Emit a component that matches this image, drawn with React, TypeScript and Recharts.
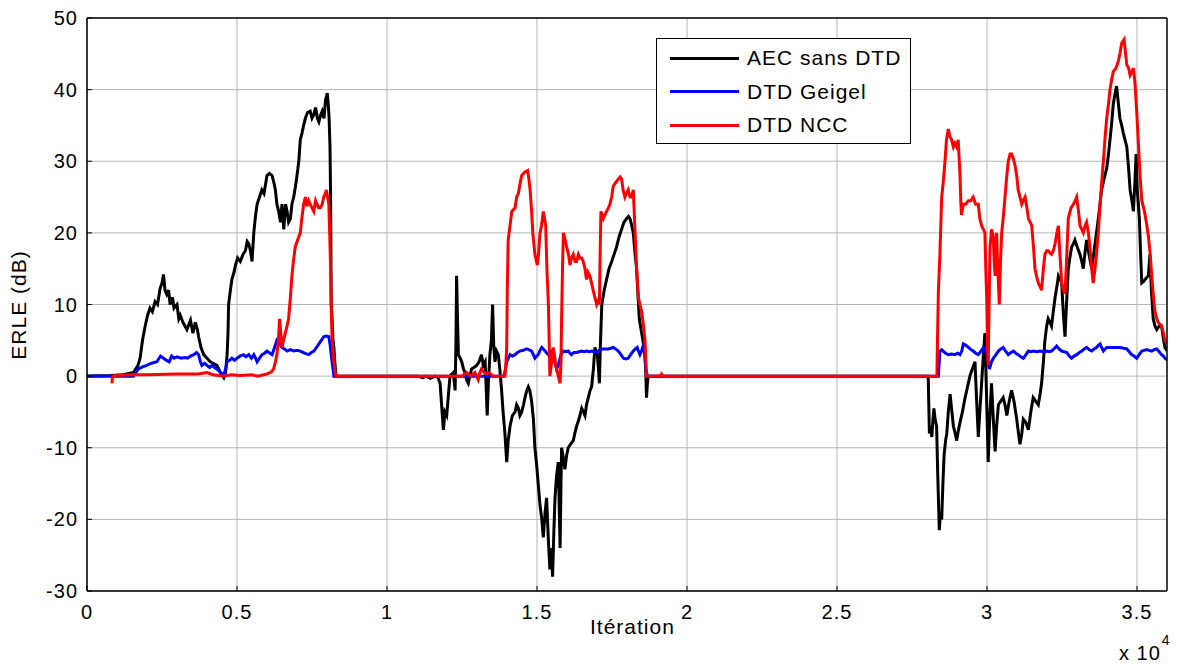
import { LineChart, Line, XAxis, YAxis, CartesianGrid } from 'recharts';

// Courbes ERLE (dB) en fonction de l'itération : [itération, valeur]
const aecSansDtd: [number, number][] = [
  [0, 0], [800, 0.1], [1200, 0.2], [1550, 0.5], [1700, 1.5], [1770, 2.5], [1850, 5], [1940, 7], [2020, 8.5],
  [2100, 9.5], [2180, 9], [2270, 10.4], [2350, 10], [2440, 12.3], [2500, 13], [2550, 14.2], [2600, 12],
  [2660, 11.4], [2720, 12], [2770, 10], [2850, 11], [2900, 9.5], [3000, 10], [3060, 8], [3110, 8.5],
  [3200, 7.5], [3330, 6.5], [3450, 7.8], [3530, 6], [3610, 7.5], [3680, 6.5], [3720, 5.5], [3800, 4],
  [3890, 3], [4000, 2.5], [4110, 2], [4200, 1.8], [4330, 1.5], [4450, 0.5], [4560, -0.2], [4620, 0.5],
  [4670, 3], [4700, 6], [4720, 10], [4780, 12], [4830, 13.5], [4900, 14.5], [4950, 15.5], [5020, 16.5],
  [5110, 16], [5200, 17], [5280, 17.5], [5340, 18.8], [5390, 18.5], [5450, 17.5], [5500, 16], [5530, 18],
  [5560, 20], [5620, 22.5], [5670, 24], [5750, 25], [5830, 26], [5900, 25.5], [6000, 28], [6080, 28.3],
  [6170, 28], [6230, 27], [6280, 26], [6330, 24], [6390, 23], [6450, 21.5], [6500, 24], [6560, 20.5],
  [6620, 24], [6670, 23], [6720, 21.5], [6780, 22], [6830, 24], [6890, 25], [6950, 26.5], [7000, 28],
  [7060, 30], [7110, 33], [7170, 34], [7220, 35], [7280, 36], [7350, 36.8], [7440, 37], [7500, 36],
  [7560, 36.5], [7620, 37.5], [7680, 36], [7730, 35.5], [7790, 36.5], [7840, 37], [7900, 36], [7950, 38.5],
  [8010, 39.5], [8040, 38], [8070, 36], [8100, 32], [8120, 25], [8140, 10], [8170, 8], [8200, 5],
  [8230, 4], [8260, 2], [8300, 0], [11000, 0], [11200, -0.2], [11300, 0], [11450, -0.3], [11600, 0],
  [11700, -0.2], [11770, -1], [11820, -4], [11880, -7.5], [11930, -5], [11990, -5.5], [12040, -3],
  [12100, 0], [12210, 0.5], [12270, -2], [12300, 5], [12320, 14], [12350, 8], [12380, 3], [12440, 2.5],
  [12490, 2], [12550, 1], [12600, 0.5], [12650, -0.5], [12710, -1], [12760, 0], [12820, 1], [12900, 1.2],
  [12990, 1.5], [13070, 2], [13150, 3], [13210, 1.5], [13270, 2], [13300, -1], [13340, -5.5], [13380, -1],
  [13430, 3], [13480, 5], [13520, 10], [13560, 4], [13600, 2], [13650, 3.5], [13710, 3], [13760, 1],
  [13820, -2], [13870, -5], [13930, -8], [13990, -12], [14040, -9], [14100, -7], [14180, -5.5],
  [14270, -5], [14320, -4], [14380, -4.5], [14430, -5.5], [14490, -5], [14550, -4], [14600, -3],
  [14660, -2], [14710, -1.5], [14760, -2], [14820, -3.5], [14880, -6], [14930, -10], [14990, -12.5],
  [15040, -15], [15100, -18], [15160, -20], [15210, -22.5], [15270, -19], [15320, -17], [15380, -23],
  [15430, -27], [15480, -24], [15520, -28], [15560, -22], [15600, -17], [15650, -14], [15710, -12],
  [15740, -18], [15770, -24], [15800, -15], [15820, -10], [15880, -11.5], [15930, -13], [15990, -11],
  [16040, -10], [16120, -9.5], [16210, -9], [16260, -8], [16320, -7], [16400, -6], [16490, -4.5],
  [16550, -5], [16600, -5.5], [16650, -4], [16710, -3], [16770, -2], [16820, -1.5], [16880, 1],
  [16930, 4], [16970, 3.5], [17010, 3], [17050, 1], [17080, -1], [17110, 4], [17160, 10], [17240, 12],
  [17320, 13.5], [17400, 15], [17490, 16], [17570, 17], [17650, 18], [17740, 19.5], [17820, 20.5],
  [17900, 21.5], [17990, 22], [18050, 22.3], [18100, 22], [18160, 21], [18210, 20], [18270, 17],
  [18320, 15], [18370, 11], [18410, 8], [18450, 7], [18490, 6], [18550, 4.5], [18600, 3], [18630, 0],
  [18650, -3], [18680, -1], [18710, 0], [28000, 0], [28040, 0], [28060, -4], [28080, -8], [28120, -7],
  [28160, -8.5], [28200, -6], [28230, -4.5], [28270, -6], [28320, -7], [28360, -14], [28410, -21.5],
  [28450, -19], [28490, -20], [28530, -15], [28570, -11], [28620, -9], [28660, -8], [28710, -5],
  [28770, -2.5], [28830, -5], [28880, -7], [28940, -8], [28990, -9], [29050, -7.5], [29100, -6.5],
  [29180, -5], [29270, -3], [29350, -1.5], [29430, 0], [29510, 1], [29600, 2], [29650, -3], [29710, -8.5],
  [29760, -5], [29820, -1], [29880, 3], [29930, 6], [29980, -2], [30040, -12], [30090, -6], [30150, -1],
  [30210, -6], [30270, -10.5], [30320, -7], [30380, -4], [30460, -3.5], [30540, -3], [30600, -4],
  [30660, -5.5], [30740, -3.5], [30820, -2], [30900, -3.5], [30990, -6], [31050, -8], [31100, -9.5],
  [31160, -8], [31210, -6], [31300, -6.5], [31380, -7.5], [31460, -5], [31540, -3], [31620, -3.5],
  [31710, -4], [31770, -2.5], [31820, -1], [31880, 2], [31930, 5], [31990, 7], [32040, 8], [32100, 7.5],
  [32150, 7], [32210, 9], [32270, 11], [32330, 12.5], [32380, 14], [32440, 13.5], [32490, 13],
  [32540, 9], [32600, 5.5], [32650, 10], [32710, 15], [32760, 16.5], [32820, 18], [32880, 18.5],
  [32930, 19], [33010, 18], [33100, 17], [33160, 16], [33210, 15], [33260, 17], [33320, 19], [33400, 17],
  [33490, 15], [33570, 17.5], [33650, 20], [33740, 23], [33820, 26], [33900, 27.5], [33990, 29],
  [34050, 31], [34100, 33], [34160, 35.5], [34210, 38], [34270, 39.5], [34320, 40.5], [34380, 38],
  [34430, 36], [34490, 35], [34540, 34], [34600, 33], [34660, 32], [34720, 29], [34770, 26],
  [34830, 24.5], [34880, 23], [34930, 27], [34970, 31], [35010, 26], [35080, 22], [35120, 17],
  [35160, 13], [35220, 13.2], [35270, 13.5], [35330, 13.8], [35380, 14], [35430, 17], [35480, 12],
  [35540, 8], [35600, 7], [35660, 6.5], [35740, 7], [35820, 7], [35870, 5.5], [35930, 4], [36000, 3.5],
];

const dtdGeigel: [number, number][] = [
  [0, 0], [1550, 0], [1710, 1], [1850, 1.3], [1990, 1.5], [2150, 1.8], [2330, 2], [2450, 2.8], [2550, 2.5],
  [2650, 2.2], [2740, 2], [2820, 2.8], [2900, 2.5], [3000, 2.7], [3130, 2.5], [3250, 2.6], [3350, 2.5],
  [3450, 2.8], [3560, 3], [3650, 3.3], [3720, 3], [3780, 2], [3830, 1.5], [3920, 1.8], [4000, 1.5],
  [4090, 1.2], [4170, 1.5], [4250, 1.2], [4330, 1], [4450, 0.5], [4560, 0.2], [4620, 1], [4670, 2],
  [4750, 2.2], [4830, 2.5], [4920, 2.2], [5000, 2.5], [5100, 2.8], [5220, 3], [5300, 2.7], [5390, 3],
  [5480, 2.5], [5560, 3], [5620, 2.5], [5670, 2], [5750, 2.5], [5830, 3], [5920, 3.2], [6000, 3.5],
  [6100, 3.2], [6170, 3], [6250, 4], [6330, 5], [6420, 4.5], [6500, 4], [6580, 3.8], [6670, 3.5],
  [6780, 3.7], [6890, 3.5], [7000, 3.6], [7110, 3.5], [7250, 3.2], [7390, 3], [7480, 3.3], [7560, 3.5],
  [7650, 4], [7730, 4.5], [7810, 5], [7890, 5.5], [7980, 5.6], [8060, 5.5], [8100, 4.5], [8140, 3],
  [8200, 1], [8230, 0], [13900, 0], [13950, 1], [13990, 2], [14100, 3], [14180, 2.8], [14270, 3],
  [14350, 3.3], [14430, 3.5], [14540, 3.6], [14650, 3.8], [14730, 3.7], [14820, 3.5], [14880, 3],
  [14930, 2.5], [14990, 2.8], [15040, 3], [15100, 3.6], [15160, 4], [15210, 3.8], [15270, 3.5],
  [15330, 3.2], [15380, 3], [15430, 3.3], [15490, 3.5], [15560, 2.5], [15650, 1], [15710, 1.5],
  [15800, 3], [15880, 3.5], [15960, 3.4], [16040, 3.5], [16100, 3.2], [16150, 3], [16230, 3.3],
  [16320, 3.3], [16400, 3.4], [16490, 3.5], [16570, 3.4], [16650, 3.5], [16740, 3.4], [16820, 3.5],
  [16900, 3.4], [16990, 3.3], [17080, 3.6], [17160, 3.8], [17270, 3.8], [17380, 3.8], [17460, 3.9],
  [17540, 4], [17620, 3.8], [17710, 3.5], [17800, 3], [17880, 2.5], [17960, 2.4], [18040, 2.5],
  [18120, 3], [18210, 3.5], [18280, 3.8], [18340, 4], [18380, 3.5], [18430, 3], [18490, 3.6],
  [18540, 4.2], [18590, 3], [18630, 1], [18680, 0], [28380, 0], [28430, 3.5], [28490, 3.7], [28540, 3.5],
  [28620, 3.2], [28710, 3], [28820, 3.1], [28930, 3], [29020, 3.2], [29100, 3], [29160, 3.5], [29210, 4.5],
  [29300, 4.3], [29380, 4], [29460, 3.7], [29540, 3.5], [29620, 3.2], [29710, 3], [29800, 3.5],
  [29880, 4], [29940, 3.5], [29990, 3], [30040, 2], [30080, 1], [30150, 2], [30210, 2.5], [30300, 3],
  [30380, 3.5], [30460, 3.8], [30540, 4], [30620, 3.5], [30710, 3], [30800, 3.3], [30880, 3.5],
  [30960, 3.2], [31040, 3], [31120, 2.7], [31210, 2.5], [31300, 3], [31380, 3.5], [31460, 3.4],
  [31540, 3.5], [31650, 3.4], [31770, 3.5], [31880, 3.4], [31990, 3.5], [32070, 3.4], [32150, 3.5],
  [32230, 3.8], [32320, 4.2], [32400, 3.8], [32490, 3.5], [32570, 3.4], [32660, 3.3], [32740, 2.8],
  [32820, 2.5], [32900, 2.8], [32990, 3], [33080, 3.3], [33160, 3.5], [33240, 3.8], [33320, 4],
  [33400, 3.7], [33490, 3.5], [33570, 3.8], [33650, 4], [33710, 4.3], [33770, 4.5], [33820, 4],
  [33880, 3.5], [33940, 3.8], [33990, 4], [34100, 4], [34210, 4], [34320, 4], [34430, 4], [34550, 3.9],
  [34660, 3.8], [34740, 3.4], [34820, 3], [34900, 2.8], [34990, 2.5], [35070, 3], [35160, 3.5],
  [35240, 3.6], [35320, 3.7], [35400, 3.6], [35490, 3.5], [35570, 3.7], [35660, 3.8], [35740, 3.4],
  [35820, 3], [35880, 2.8], [35930, 2.5], [36000, 2.3],
];

const dtdNcc: [number, number][] = [
  [830, -1], [850, -0.2], [900, 0.1], [1500, 0.2], [2000, 0.2], [3000, 0.3], [3700, 0.3], [4000, 0.5],
  [4200, 0.2], [4560, 0], [4800, 0.2], [5100, 0.1], [5500, 0.2], [5680, 0], [6000, 0.3], [6150, 0.6],
  [6220, 1], [6280, 2], [6330, 3], [6380, 5], [6420, 8], [6460, 6], [6500, 4], [6550, 5], [6610, 6],
  [6670, 7], [6720, 8], [6780, 11], [6830, 14], [6880, 16], [6940, 18], [7020, 19], [7110, 20],
  [7160, 22], [7220, 24], [7280, 25], [7330, 23.7], [7390, 24.5], [7440, 24], [7500, 23.5], [7560, 23],
  [7620, 24.5], [7670, 24], [7720, 23.5], [7780, 23.5], [7840, 24], [7890, 25], [7940, 25.5], [7980, 26],
  [8020, 25], [8060, 24], [8090, 20], [8120, 15], [8150, 8], [8170, 5], [8230, 2], [8270, 0.5], [8300, 0],
  [12000, 0], [12500, 0], [12650, 0.5], [12770, 0], [12850, 0.2], [12930, 0.5], [13040, -0.5],
  [13100, 0.5], [13150, 1], [13240, 0.5], [13320, 0.3], [13400, 0.5], [13540, 0], [13930, 0],
  [13960, 1.5], [13990, 4], [14010, 12], [14040, 19], [14100, 21], [14160, 23], [14270, 23.5],
  [14320, 25], [14380, 25.5], [14440, 27], [14490, 28], [14600, 28.5], [14690, 28.7], [14730, 27.5],
  [14770, 26], [14820, 23], [14860, 20], [14930, 17], [15010, 15.5], [15050, 17], [15100, 20],
  [15150, 21], [15210, 23], [15250, 22], [15290, 21], [15330, 15], [15380, 10], [15410, 4], [15430, 0],
  [15490, 2], [15540, 4], [15580, 3], [15630, 1.5], [15710, 0], [15770, -1], [15800, 2], [15820, 8],
  [15850, 15], [15880, 20], [15940, 19], [15990, 18], [16050, 17], [16100, 15.5], [16150, 16.5],
  [16210, 17], [16270, 16], [16320, 16], [16380, 17], [16430, 16.5], [16490, 16.5], [16540, 16],
  [16600, 15], [16650, 13.5], [16700, 14.5], [16760, 14], [16820, 13], [16870, 12], [16930, 11],
  [16990, 10], [17040, 10.5], [17080, 10], [17100, 16], [17130, 23], [17170, 22.5], [17210, 22],
  [17260, 22.5], [17320, 23], [17380, 23.5], [17430, 24], [17490, 25], [17540, 26.5], [17620, 27],
  [17710, 27.5], [17770, 27.8], [17820, 27.5], [17870, 26], [17930, 25], [17980, 25.5], [18040, 26],
  [18100, 25], [18150, 25], [18210, 26], [18240, 23], [18270, 20], [18320, 15], [18380, 11], [18430, 10],
  [18490, 9], [18550, 7], [18600, 5], [18630, 2], [18650, 0], [19100, 0], [19150, 0.3], [19200, 0],
  [28260, 0], [28330, 0], [28350, 5], [28380, 12], [28430, 17], [28490, 25], [28540, 27], [28600, 30],
  [28650, 33], [28710, 34.5], [28760, 33.5], [28820, 33], [28880, 32], [28930, 32.5], [28990, 32],
  [29040, 33], [29100, 28], [29130, 24], [29150, 22.5], [29210, 24], [29290, 24], [29380, 24.5],
  [29460, 24.5], [29540, 25], [29620, 24], [29710, 24], [29760, 22], [29820, 21], [29880, 20.5],
  [29930, 20], [29960, 15], [29990, 11], [30020, 4], [30040, 1.5], [30070, 10], [30100, 18], [30150, 20.5],
  [30210, 19.5], [30240, 16], [30270, 14], [30300, 17], [30320, 20], [30360, 15], [30410, 10], [30450, 16],
  [30490, 20], [30550, 22.5], [30600, 25], [30660, 28], [30710, 30], [30770, 31], [30820, 31],
  [30870, 30.5], [30930, 29.5], [30990, 28], [31040, 26], [31100, 25], [31160, 24], [31210, 24.5],
  [31270, 25], [31330, 23.5], [31380, 22], [31440, 21.5], [31490, 21], [31550, 18], [31600, 15],
  [31650, 14], [31710, 13], [31770, 12.5], [31820, 12], [31880, 15], [31930, 17], [31990, 17.5],
  [32040, 17.5], [32100, 17.2], [32150, 17], [32210, 17.5], [32270, 18.5], [32330, 20], [32380, 21],
  [32430, 17], [32490, 13], [32550, 12], [32600, 11.5], [32650, 16], [32710, 22], [32800, 23.5],
  [32880, 24], [32940, 24.5], [32990, 25], [33050, 23], [33100, 21], [33160, 20.5], [33210, 20],
  [33270, 21], [33320, 21.5], [33380, 20], [33430, 18], [33490, 15], [33540, 13], [33600, 15],
  [33650, 17], [33710, 20], [33770, 24], [33820, 27], [33880, 30], [33930, 33], [33990, 36], [34050, 38],
  [34100, 40], [34160, 41.5], [34210, 42.5], [34300, 43], [34380, 44], [34430, 45], [34490, 46.5],
  [34570, 47], [34620, 45], [34660, 43.5], [34720, 43], [34770, 42], [34830, 42.5], [34880, 43],
  [34930, 41], [34990, 37], [35040, 33], [35100, 28], [35160, 24.5], [35220, 23.5], [35270, 22.5],
  [35330, 21], [35380, 19.5], [35440, 17], [35490, 14], [35550, 11], [35600, 9], [35660, 8], [35710, 7.5],
  [35770, 7.2], [35820, 7], [35880, 6], [35930, 5], [36000, 4.5],
];

const seriesNames = ['AEC sans DTD', 'DTD Geigel', 'DTD NCC'];
const seriesColors = ['#000000', '#0000ff', '#ff0000'];
const seriesData = [aecSansDtd, dtdGeigel, dtdNcc];

const xTicks = [0, 5000, 10000, 15000, 20000, 25000, 30000, 35000];
const yTicks = [-30, -20, -10, 0, 10, 20, 30, 40, 50];

const FONT = '"Liberation Sans", Arial, sans-serif';
const tickStyle = { fontSize: 20, fill: '#000', fontFamily: FONT, letterSpacing: 1 };

const toPoints = (s: [number, number][]) => s.map(([x, y]) => ({ x, y }));

export default function App() {
  return (
    <div style={{ position: 'absolute', left: 0, top: 0, width: 1179, height: 666, background: '#fff', fontFamily: FONT }}>
      <LineChart width={1179} height={666} margin={{ top: 0, right: 0, bottom: 0, left: 0 }}>
        <CartesianGrid stroke="#b4b4b4" strokeWidth={1} horizontalValues={yTicks} verticalValues={xTicks} />
        <XAxis
          dataKey="x"
          type="number"
          domain={[0, 36000]}
          ticks={xTicks}
          height={75}
          tickFormatter={(v: number) => String(v / 10000)}
          tick={tickStyle}
          tickSize={-5}
          tickMargin={19}
          tickLine={{ stroke: '#000' }}
          axisLine={{ stroke: '#000', strokeWidth: 1.5 }}
          allowDataOverflow
        />
        <XAxis
          xAxisId="top"
          orientation="top"
          dataKey="x"
          type="number"
          domain={[0, 36000]}
          ticks={xTicks}
          height={18}
          tick={false}
          tickSize={-5}
          tickLine={{ stroke: '#000' }}
          axisLine={{ stroke: '#000', strokeWidth: 1.5 }}
          allowDataOverflow
        />
        <YAxis
          type="number"
          domain={[-30, 50]}
          ticks={yTicks}
          width={87}
          tick={tickStyle}
          tickSize={-5}
          tickMargin={14}
          tickLine={{ stroke: '#000' }}
          axisLine={{ stroke: '#000', strokeWidth: 1.5 }}
          allowDataOverflow
        />
        <YAxis
          yAxisId="right"
          orientation="right"
          type="number"
          domain={[-30, 50]}
          ticks={yTicks}
          width={12}
          tick={false}
          tickSize={-5}
          tickLine={{ stroke: '#000' }}
          axisLine={{ stroke: '#000', strokeWidth: 1.5 }}
          allowDataOverflow
        />
        {seriesData.map((s, i) => (
          <Line
            key={seriesNames[i]}
            data={toPoints(s)}
            dataKey="y"
            name={seriesNames[i]}
            type="linear"
            stroke={seriesColors[i]}
            strokeWidth={3}
            dot={false}
            activeDot={false}
            isAnimationActive={false}
          />
        ))}
      </LineChart>

      {/* titres des axes */}
      <div style={{ position: 'absolute', left: 590, top: 615, fontSize: 21, letterSpacing: 1, color: '#000' }}>
        Itération
      </div>
      <div
        style={{
          position: 'absolute',
          left: 19,
          top: 305,
          transform: 'translate(-50%, -50%) rotate(-90deg)',
          fontSize: 21,
          letterSpacing: 1,
          whiteSpace: 'nowrap',
          color: '#000',
        }}
      >
        ERLE (dB)
      </div>
      <div style={{ position: 'absolute', left: 1119, top: 642, fontSize: 20, letterSpacing: 1, color: '#000', whiteSpace: 'nowrap' }}>
        x 10<span style={{ position: 'relative', top: -15, fontSize: 14, marginLeft: 1 }}>4</span>
      </div>

      {/* légende */}
      <div
        style={{
          position: 'absolute',
          left: 656,
          top: 38,
          width: 255,
          height: 106,
          border: '1.5px solid #000',
          background: '#fff',
          boxSizing: 'border-box',
        }}
      >
        {seriesNames.map((n, i) => (
          <div key={n} style={{ position: 'absolute', left: 13, top: 6 + i * 33.5, height: 26, display: 'flex', alignItems: 'center' }}>
            <div style={{ width: 69, height: 3, background: seriesColors[i] }} />
            <span style={{ marginLeft: 8, fontSize: 21, letterSpacing: 1, whiteSpace: 'nowrap', color: '#000' }}>{n}</span>
          </div>
        ))}
      </div>
    </div>
  );
}
